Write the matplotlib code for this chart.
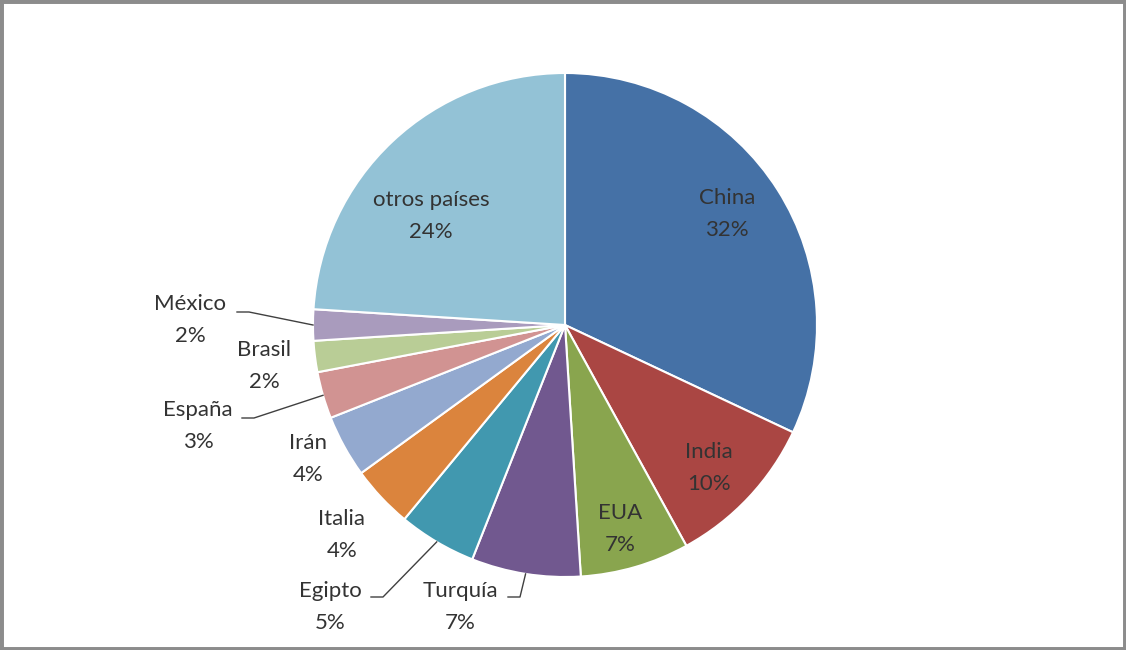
import numpy as np
import matplotlib.pyplot as plt
from matplotlib.patches import Rectangle

paises = ['China', 'India', 'EUA', 'Turquía', 'Egipto', 'Italia', 'Irán',
          'España', 'Brasil', 'México', 'otros países']
porcentajes = [32, 10, 7, 7, 5, 4, 4, 3, 2, 2, 24]
colores = ['#4571a6', '#aa4643', '#89a54e', '#71588f', '#4198af', '#db843d',
           '#93a9cf', '#d19392', '#b9cd96', '#a99bbd', '#93c2d6']

# label centres in pixel coords (y measured from the top)
pos_etiquetas = {
    'China': (727, 214), 'India': (709, 468), 'EUA': (620, 529),
    'Turquía': (460, 607), 'Egipto': (330, 607), 'Italia': (342, 535),
    'Irán': (308, 459), 'España': (198, 426), 'Brasil': (264, 366),
    'México': (190, 320), 'otros países': (431, 216),
}
# leader lines: (x where the line starts, y of the horizontal part)
guias = {'México': (237, 312), 'España': (242, 418),
         'Egipto': (371, 597), 'Turquía': (508, 597)}

W, H = 1126, 650
cx, cy, r = 565, H - 325, 252

fig = plt.figure(figsize=(W / 100, H / 100), dpi=100)
ax = fig.add_axes([0, 0, 1, 1])

wedges, _ = ax.pie(porcentajes, colors=colores, startangle=90, counterclock=False,
                   center=(cx, cy), radius=r, frame=True,
                   wedgeprops=dict(edgecolor='white', linewidth=1.5))
ax.set_xlim(0, W)
ax.set_ylim(0, H)
ax.axis('off')

for nombre, valor, w in zip(paises, porcentajes, wedges):
    x, y = pos_etiquetas[nombre]
    ax.text(x, H - y, f'{nombre}\n{valor}%', ha='center', va='center',
            fontsize=16, family='Lato', color='#333333', linespacing=1.7)
    if nombre in guias:
        ang = np.deg2rad((w.theta1 + w.theta2) / 2)
        ex, ey = cx + r * np.cos(ang), cy + r * np.sin(ang)
        sx, sy = guias[nombre]
        ax.plot([sx, sx + 12, ex], [H - sy, H - sy, ey], color='#404040', lw=1)

fig.patches.append(Rectangle((0, 0), 1, 1, transform=fig.transFigure, fill=False,
                             edgecolor='#8c8c8c', linewidth=5))

fig.savefig('out.png', dpi=100, facecolor='white')
